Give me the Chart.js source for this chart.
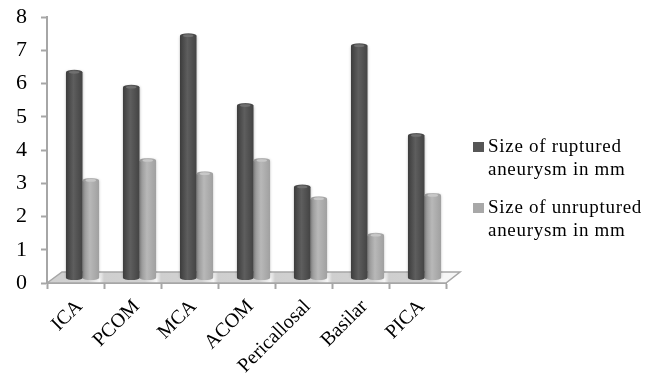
<!DOCTYPE html>
<html>
<head>
<meta charset="utf-8">
<script src="https://cdn.jsdelivr.net/npm/chart.js@4"></script>
<style>
  body { margin: 0; background: #fff; }
</style>
</head>
<body>
<canvas id="myChart" width="654" height="378"></canvas>
<script>
const categories = ['ICA', 'PCOM', 'MCA', 'ACOM', 'Pericallosal', 'Basilar', 'PICA'];
const ruptured = [6.2, 5.75, 7.3, 5.2, 2.75, 7, 4.3];
const unruptured = [2.95, 3.55, 3.15, 3.55, 2.4, 1.3, 2.5];
const rupturedLabel = ['Size of ruptured', 'aneurysm in mm'];
const unrupturedLabel = ['Size of unruptured', 'aneurysm in mm'];

const fontName = '"Liberation Serif", serif';
const axisGrey = '#a6a6a6';
const barShare = 0.58;

// bars are shifted by this much so they stand on the fake 3d floor
const shiftX = 7;
const shiftY = -4.5;

function cylinder(colors) {
    return (c) => {
        const x = c.chart.scales.x;
        if (!x || !x.width) return colors[1];
        const w = (x.width / categories.length) * barShare / 2;
        const left = x.getPixelForValue(c.dataIndex) - (c.datasetIndex === 0 ? w : 0);
        const g = c.chart.ctx.createLinearGradient(left, 0, left + w, 0);
        g.addColorStop(0, colors[0]);
        g.addColorStop(0.45, colors[1]);
        g.addColorStop(1, colors[2]);
        return g;
    };
}

const fake3d = {
    id: 'fake3d',
    beforeDatasetsDraw(chart) {
        const { ctx, chartArea: a } = chart;
        // floor, with a light sheen between the groups
        const g = ctx.createLinearGradient(a.left, 0, a.right, 0);
        categories.forEach((name, i) => {
            const step = 1 / categories.length;
            g.addColorStop(i * step, '#cfcfcf');
            g.addColorStop((i + 0.72) * step, '#d2d2d2');
            g.addColorStop((i + 0.92) * step, '#f6f6f6');
        });
        ctx.save();
        ctx.beginPath();
        ctx.moveTo(a.left, a.bottom);
        ctx.lineTo(a.left + 15, a.bottom - 11);
        ctx.lineTo(a.right + 14, a.bottom - 11);
        ctx.lineTo(a.right, a.bottom);
        ctx.closePath();
        ctx.fillStyle = g;
        ctx.fill();
        ctx.strokeStyle = axisGrey;
        ctx.lineWidth = 1.5;
        ctx.stroke();
        ctx.restore();
        ctx.save();
        ctx.translate(shiftX, shiftY);
        ctx.shadowColor = 'rgba(0,0,0,0.35)';
        ctx.shadowBlur = 3;
    },
    afterDatasetsDraw(chart) {
        const { ctx } = chart;
        ctx.shadowColor = 'transparent';
        chart.data.datasets.forEach((ds, i) => {
            chart.getDatasetMeta(i).data.forEach((el) => {
                const r = el.width / 2;
                // round bottom
                ctx.fillStyle = el.options.backgroundColor;
                ctx.beginPath();
                ctx.ellipse(el.x, el.base, r, 2, 0, 0, Math.PI);
                ctx.fill();
                // round top
                ctx.beginPath();
                ctx.ellipse(el.x, el.y, r, 2.5, 0, 0, Math.PI * 2);
                ctx.fill();
                ctx.fillStyle = ds.capColor;
                ctx.beginPath();
                ctx.ellipse(el.x, el.y, r - 3, 1.3, 0, 0, Math.PI * 2);
                ctx.fill();
            });
        });
        ctx.restore();
    },
    afterDraw(chart) {
        const { ctx } = chart;
        const rows = [
            { top: 142, lines: rupturedLabel, fill: '#565656' },
            { top: 203, lines: unrupturedLabel, fill: '#a8a8a8' }
        ];
        ctx.save();
        ctx.font = '19px ' + fontName;
        ctx.letterSpacing = '0.7px';
        ctx.textBaseline = 'alphabetic';
        rows.forEach((row) => {
            ctx.fillStyle = row.fill;
            ctx.fillRect(473, row.top, 11, 10);
            ctx.fillStyle = '#000';
            ctx.fillText(row.lines[0], 488, row.top + 10);
            ctx.fillText(row.lines[1], 488, row.top + 33);
        });
        ctx.restore();
    }
};

const ctx = document.getElementById('myChart').getContext('2d');
const myChart = new Chart(ctx, {
    type: 'bar',
    data: {
        labels: categories,
        datasets: [
            {
                label: rupturedLabel.join(' '),
                data: ruptured,
                backgroundColor: cylinder(['#3c3c3c', '#5e5e5e', '#434343']),
                capColor: '#707070',
                barPercentage: 1,
                categoryPercentage: barShare
            },
            {
                label: unrupturedLabel.join(' '),
                data: unruptured,
                backgroundColor: cylinder(['#8f8f8f', '#b8b8b8', '#a0a0a0']),
                capColor: '#c8c8c8',
                barPercentage: 1,
                categoryPercentage: barShare
            }
        ]
    },
    options: {
        responsive: false,
        animation: false,
        layout: { padding: { top: 17, right: 208, left: 0, bottom: 0 } },
        plugins: {
            legend: { display: false },
            tooltip: { enabled: false }
        },
        scales: {
            x: {
                afterFit: (s) => { s.height = 95; },
                border: { color: axisGrey, width: 2 },
                grid: {
                    offset: true,
                    drawOnChartArea: false,
                    drawTicks: true,
                    tickLength: 6,
                    tickColor: axisGrey,
                    tickWidth: 2
                },
                ticks: {
                    color: '#000',
                    maxRotation: 45,
                    minRotation: 45,
                    autoSkip: false,
                    padding: 6,
                    labelOffset: 4,
                    font: { family: fontName, size: 20 }
                }
            },
            y: {
                min: 0,
                max: 8,
                // the 8 label would otherwise push the plot down
                afterFit: (s) => { s.width = 47; s.paddingTop = 0; s.paddingBottom = 0; },
                border: { color: axisGrey, width: 2 },
                grid: {
                    drawOnChartArea: false,
                    drawTicks: true,
                    tickLength: 6,
                    tickColor: axisGrey,
                    tickWidth: 2
                },
                ticks: {
                    color: '#000',
                    stepSize: 1,
                    padding: 14,
                    font: { family: fontName, size: 22 }
                }
            }
        }
    },
    plugins: [fake3d]
});
</script>
</body>
</html>
